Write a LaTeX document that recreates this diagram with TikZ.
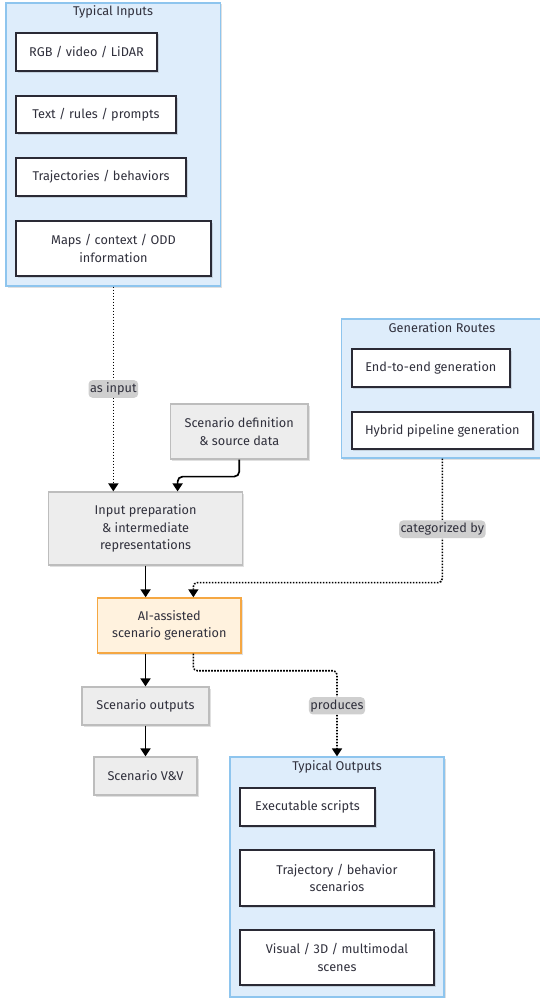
\documentclass[tikz,border=0pt]{standalone}
\usepackage{fontspec}
\setmainfont{Fira Sans}
\usetikzlibrary{arrows.meta,shadows,calc}
\definecolor{clfill}{HTML}{DEEDFB}
\definecolor{cldraw}{HTML}{8EC5EE}
\definecolor{gyfill}{HTML}{EDEDED}
\definecolor{gydraw}{HTML}{BDBDBD}
\definecolor{aifill}{HTML}{FFF2DE}
\definecolor{aidraw}{HTML}{F5A742}
\definecolor{lblfill}{HTML}{CFCFCF}
\definecolor{txt}{HTML}{30303C}
\definecolor{bxdraw}{HTML}{2A2A35}
\tikzset{
  base/.style={rectangle, inner sep=0pt, align=center, text=txt,
    font=\fontsize{12.7}{17.3}\selectfont},
  shad/.style={drop shadow={shadow xshift=1.5pt, shadow yshift=-1.5pt, fill=black, opacity=0.12}},
  cluster/.style={base, fill=clfill, draw=cldraw, line width=1.2pt, shad},
  ctitle/.style={base},
  wbox/.style={base, fill=white, draw=bxdraw, line width=1.7pt, shad},
  gbox/.style={base, fill=gyfill, draw=gydraw, line width=1.2pt, shad},
  aibox/.style={base, fill=aifill, draw=aidraw, line width=1.4pt, shad},
  lbl/.style={base, fill=lblfill, inner xsep=1.5pt, inner ysep=2.5pt},
  solidarr/.style={draw=black, line width=1.7pt, -{Triangle[width=10pt,length=8pt]}},
  dotarr/.style={draw=black, line width=1.6pt, dash pattern=on 1.6pt off 1.4pt, rounded corners=4pt, -{Triangle[width=10pt,length=8pt]}},
}
\begin{document}
\begin{tikzpicture}[x=1pt, y=-1pt]
\useasboundingbox (0,0) rectangle (539,998);
\fill[white] (0,0) rectangle (539,998);

% Typical Inputs
\node[cluster, minimum width=214.7, minimum height=283] (ti) at (113.35,144.5) {};
\node[ctitle] (tit) at (113,12) {Typical Inputs};
\node[wbox, minimum width=141, minimum height=38] (rgb) at (86.5,52) {RGB / video / LiDAR};
\node[wbox, minimum width=160, minimum height=37] (txt) at (96,114.5) {Text / rules / prompts};
\node[wbox, minimum width=170, minimum height=38] (trj) at (101,177) {Trajectories / behaviors};
\node[wbox, minimum width=195, minimum height=55] (maps) at (113.5,248.5) {Maps / context / ODD\\information};

% Generation Routes
\node[cluster, minimum width=201.3, minimum height=139] (gr) at (442.3,388.5) {};
\node[ctitle] (grt) at (442,328) {Generation Routes};
\node[wbox, minimum width=158.3, minimum height=38] (e2e) at (430.85,368) {End-to-end generation};
\node[wbox, minimum width=181.3, minimum height=37] (hyb) at (442.35,430.5) {Hybrid pipeline generation};

% main chain
\node[gbox, minimum width=137.5, minimum height=55] (sd) at (239.25,431.5) {Scenario definition\\\& source data};
\node[gbox, minimum width=193.6, minimum height=73] (ip) at (145.6,528.5) {Input preparation\\\& intermediate\\representations};
\node[aibox, minimum width=143.3, minimum height=55] (ai) at (169.35,625.5) {AI-assisted\\scenario generation};
\node[gbox, minimum width=127, minimum height=38] (so) at (145.5,706) {Scenario outputs};
\node[gbox, minimum width=103, minimum height=38] (vv) at (145.5,776) {Scenario V\&V};

% Typical Outputs
\node[cluster, minimum width=214, minimum height=240] (to) at (337,877) {};
\node[ctitle] (tot) at (337,767) {Typical Outputs};
\node[wbox, minimum width=135, minimum height=38] (ex) at (307.5,807) {Executable scripts};
\node[wbox, minimum width=194, minimum height=56] (tb) at (337,878) {Trajectory / behavior\\scenarios};
\node[wbox, minimum width=194, minimum height=55] (vis) at (337,957.5) {Visual / 3D / multimodal\\scenes};

% connectors
\draw[dotarr] (ti.south) -- node[lbl, midway] {as input} (ti.south |- ip.north);
\draw[solidarr, rounded corners=5pt] (sd.south) -- ++(0,17) -| ([xshift=32pt]ip.north);
\draw[solidarr] (ip.south) -- (ip.south |- ai.north);
\draw[dotarr] (gr.south) -- node[lbl, pos=0.57] {categorized by} ++(0,124) -| ([xshift=24pt]ai.north);
\draw[solidarr] (so.north |- ai.south) -- (so.north);
\draw[dotarr] ([xshift=24pt]ai.south) -- ++(0,17) -| node[lbl, pos=0.705] {produces} (to.north);
\draw[solidarr] (so.south) -- (vv.north);
\end{tikzpicture}
\end{document}
